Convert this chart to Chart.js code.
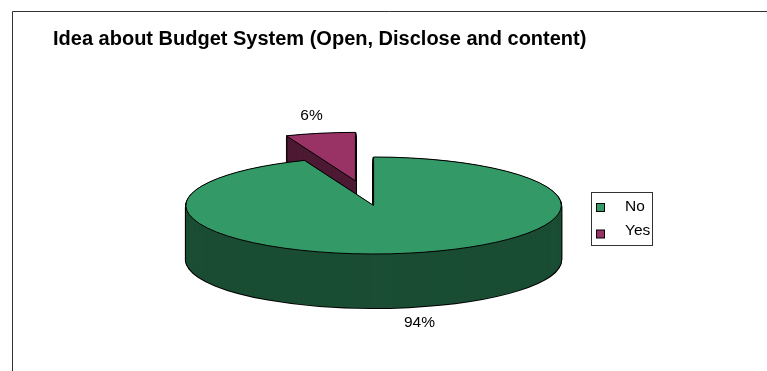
<!DOCTYPE html>
<html>
<head>
<meta charset="utf-8">
<title>Idea about Budget System</title>
<script src="https://cdn.jsdelivr.net/npm/chart.js@4"></script>
<style>
  html, body { margin: 0; padding: 0; background: #fff; overflow: hidden; }
  #wrap { position: relative; width: 767px; height: 371px; }
</style>
</head>
<body>
<div id="wrap"><canvas id="chart"></canvas></div>
<script>
const chartTitle = 'Idea about Budget System (Open, Disclose and content)';
const categories = ['No', 'Yes'];
const shares = [94, 6];
const topColors = ['#339966', '#993366'];
const sideColors = ['#1a4d33', '#4d1a33'];

// tilted pie: flattened top face with a wall extruded below it
const pieX = 373.6;
const pieY = 205.5;
const pieRadius = 187.7;
const squash = 0.2584;
const depth = 54;
const explode = [0, 97];
const font = '"Liberation Sans", Arial, sans-serif';

const drawArc = (ctx, arc, i, dy, fill, stroke, width) => {
  const saved = arc.options;
  const mid = (arc.startAngle + arc.endAngle) / 2;
  arc.options = Object.assign({}, saved, { backgroundColor: fill, borderColor: stroke, borderWidth: width });
  ctx.save();
  ctx.translate(pieX, pieY + dy);
  ctx.scale(1, squash);
  ctx.translate(Math.cos(mid) * explode[i] - arc.x, Math.sin(mid) * explode[i] - arc.y);
  arc.draw(ctx);
  ctx.restore();
  arc.options = saved;
};

const tiltedPie = {
  id: 'tiltedPie',
  beforeDatasetDraw(chart, args) {
    const ctx = chart.ctx;
    const arcs = args.meta.data;
    // stroke in screen space so the outline keeps an even width on the flattened arcs
    const plainStroke = ctx.stroke;
    ctx.stroke = function () {
      ctx.save();
      ctx.setTransform(1, 0, 0, 1, 0, 0);
      plainStroke.call(ctx);
      ctx.restore();
    };
    // the exploded slice goes first, the big slice sits in front of it
    [1, 0].forEach(i => {
      for (let dy = depth; dy > 0; dy -= 1) drawArc(ctx, arcs[i], i, dy, '#000', '#000', 2);
      for (let dy = depth; dy > 0; dy -= 1) drawArc(ctx, arcs[i], i, dy, sideColors[i], sideColors[i], 0);
      drawArc(ctx, arcs[i], i, 0, topColors[i], '#000', 1);
    });
    delete ctx.stroke;
    return false;
  },
  beforeDraw(chart) {
    const ctx = chart.ctx;
    ctx.save();
    ctx.strokeStyle = '#333';
    ctx.lineWidth = 1;
    ctx.beginPath();
    ctx.moveTo(12.5, 371);
    ctx.lineTo(12.5, 11.5);
    ctx.lineTo(767, 11.5);
    ctx.stroke();
    ctx.restore();
  },
  afterDraw(chart) {
    const ctx = chart.ctx;
    ctx.save();
    ctx.fillStyle = '#000';
    ctx.font = '15.5px ' + font;
    ctx.textAlign = 'center';
    ctx.textBaseline = 'middle';
    ctx.fillText(shares[0] + '%', 419.5, 323);
    ctx.fillText(shares[1] + '%', 311.5, 116);

    // legend box
    const items = Chart.overrides.pie.plugins.legend.labels.generateLabels(chart);
    ctx.strokeStyle = '#333';
    ctx.strokeRect(591.5, 192.5, 61, 53);
    ctx.textAlign = 'left';
    items.forEach((item, i) => {
      ctx.fillStyle = item.fillStyle;
      ctx.strokeStyle = '#000';
      ctx.fillRect(596.5, 203.5 + i * 26.5, 8, 8);
      ctx.strokeRect(596.5, 203.5 + i * 26.5, 8, 8);
      ctx.fillStyle = '#000';
      ctx.fillText(item.text, 625, 206.5 + i * 24);
    });
    ctx.restore();
  }
};

new Chart(document.getElementById('chart'), {
  type: 'pie',
  data: {
    labels: categories,
    datasets: [{
      data: shares,
      backgroundColor: topColors,
      borderColor: '#000',
      borderWidth: 1,
      borderJoinStyle: 'miter',
      radius: pieRadius,
      clip: false
    }]
  },
  options: {
    responsive: true,
    maintainAspectRatio: false,
    animation: false,
    layout: { padding: { left: 53, top: 27, right: 0, bottom: 0 } },
    plugins: {
      legend: { display: false },
      tooltip: { enabled: false },
      title: {
        display: true,
        text: chartTitle,
        align: 'start',
        color: '#000',
        font: { family: font, size: 20, weight: 'bold' },
        padding: 0
      }
    }
  },
  plugins: [tiltedPie]
});
</script>
</body>
</html>
